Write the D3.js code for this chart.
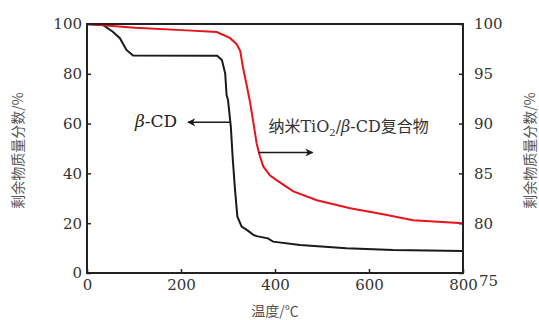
<!DOCTYPE html>
<html>
<head>
<meta charset="utf-8">
<script src="https://cdn.jsdelivr.net/npm/d3@7"></script>
<style>
  body { margin: 0; background: #fff; }
  svg { display: block; }
  .tick text { font-family: "DejaVu Serif", "Liberation Serif", serif; font-size: 15px; fill: #333; }
</style>
</head>
<body>
<svg id="chart" width="539" height="320"></svg>
<script>
// temperature (°C) and remaining mass (%)
const bcdTemp = [0, 34, 55, 70, 84, 98, 277, 287, 294, 297, 300, 306, 310, 315, 320, 329, 340, 354, 361, 385, 396, 453, 552, 651, 800];
const bcdMass = [100, 99.6, 96.9, 94.3, 89.6, 87.3, 87.2, 85.5, 80.2, 71.5, 69.5, 58.8, 46.2, 33.3, 22.6, 18.6, 17.3, 15.3, 14.8, 13.9, 12.6, 11.2, 9.9, 9.2, 8.8];

const tioTemp = [0, 102, 212, 276, 304, 318, 326, 332, 340, 347, 354, 361, 368, 375, 389, 404, 439, 489, 560, 630, 694, 800];
const tioMass = [100, 99.63, 99.36, 99.2, 98.6, 98.0, 97.3, 95.6, 93.8, 92.1, 90.1, 88.0, 86.7, 85.7, 84.8, 84.3, 83.2, 82.3, 81.5, 80.9, 80.3, 80.0];

const xTicks = [0, 200, 400, 600, 800];
const leftTicks = [0, 20, 40, 60, 80, 100];
const rightTicks = [75, 80, 85, 90, 95, 100];

const svg = d3.select('#chart');
const margin = { top: 24, right: 76, bottom: 47, left: 87 };
const width = 539 - margin.left - margin.right;
const height = 320 - margin.top - margin.bottom;
const root = svg.append('g').attr('transform', `translate(${margin.left},${margin.top})`);

const x = d3.scaleLinear().domain([0, 800]).range([0, width]);
const yL = d3.scaleLinear().domain([0, 100]).range([height, 0]);
const yR = d3.scaleLinear().domain([75, 100]).range([height, 0]);

// axes, ticks pointing inward
root.append('g')
  .attr('transform', `translate(0,${height})`)
  .call(d3.axisBottom(x).tickValues(xTicks).tickSize(-4).tickPadding(6))
  .call(g => g.select('.domain').remove());
root.append('g')
  .call(d3.axisLeft(yL).tickValues(leftTicks).tickSize(-4).tickPadding(5))
  .call(g => g.select('.domain').remove());
root.append('g')
  .attr('transform', `translate(${width},0)`)
  .call(d3.axisRight(yR).tickValues(rightTicks).tickSize(-4).tickPadding(11))
  .call(g => g.select('.domain').remove());
root.selectAll('.tick line').attr('stroke', '#222').attr('stroke-width', 1.5);

// the bottom right label sits lower and a bit right, like the original
root.selectAll('.tick text').filter(d => d === 75).attr('dy', '0.8em').attr('dx', 5);

const line = (ys, temps, masses) => d3.line()
  .x(i => x(temps[i]))
  .y(i => ys(masses[i]))(d3.range(temps.length));

root.append('path')
  .attr('d', line(yL, bcdTemp, bcdMass))
  .attr('fill', 'none').attr('stroke', '#1a1a1a').attr('stroke-width', 2);
root.append('path')
  .attr('d', line(yR, tioTemp, tioMass))
  .attr('fill', 'none').attr('stroke', '#e8131b').attr('stroke-width', 2);

root.append('rect')
  .attr('width', width).attr('height', height)
  .attr('fill', 'none').attr('stroke', '#222').attr('stroke-width', 2);

// arrows
const defs = svg.append('defs');
defs.append('marker').attr('id', 'arr')
  .attr('viewBox', '0 0 10 10').attr('refX', 9).attr('refY', 5)
  .attr('markerWidth', 12).attr('markerHeight', 8).attr('markerUnits', 'userSpaceOnUse')
  .attr('orient', 'auto')
  .append('path').attr('d', 'M0,0 L10,5 L0,10 L3,5 Z').attr('fill', '#1a1a1a');

root.append('line')
  .attr('x1', x(305)).attr('y1', yL(60.5)).attr('x2', x(215)).attr('y2', yL(60.5))
  .attr('stroke', '#1a1a1a').attr('stroke-width', 1.5).attr('marker-end', 'url(#arr)');
root.append('line')
  .attr('x1', x(365)).attr('y1', yR(87.1)).attr('x2', x(480)).attr('y2', yR(87.1))
  .attr('stroke', '#1a1a1a').attr('stroke-width', 1.5).attr('marker-end', 'url(#arr)');

const serif = '"DejaVu Serif", "Liberation Serif", serif';
const cjk = '"Noto Sans CJK SC", sans-serif';

const t1 = root.append('text')
  .attr('x', x(102)).attr('y', yL(58.7))
  .attr('font-family', serif).attr('font-size', 17).attr('fill', '#222');
t1.append('tspan').attr('font-style', 'italic').text('β');
t1.append('tspan').text('-CD');

const t2 = root.append('text')
  .attr('x', x(386)).attr('y', yR(89.2))
  .attr('font-size', 16).attr('fill', '#333');
t2.append('tspan').attr('font-family', cjk).attr('font-size', 16).text('纳米');
t2.append('tspan').attr('font-family', serif).text('TiO');
t2.append('tspan').attr('font-family', serif).attr('font-size', 10).attr('dy', 4).text('2');
t2.append('tspan').attr('font-family', serif).attr('dy', -4).text('/');
t2.append('tspan').attr('font-family', serif).attr('font-style', 'italic').text('β');
t2.append('tspan').attr('font-family', serif).text('-CD');
t2.append('tspan').attr('font-family', cjk).attr('font-size', 16).text('复合物');

// axis titles
svg.append('text')
  .attr('x', margin.left + width / 2).attr('y', 316)
  .attr('text-anchor', 'middle').attr('font-family', cjk).attr('font-size', 14).attr('fill', '#555')
  .text('温度/℃');
const yTitle = '剩余物质量分数/%';
svg.append('text')
  .attr('transform', `translate(23,${margin.top + height / 2 + 2}) rotate(-90)`)
  .attr('text-anchor', 'middle').attr('font-family', cjk).attr('font-size', 14).attr('fill', '#555')
  .text(yTitle);
svg.append('text')
  .attr('transform', `translate(535,${margin.top + height / 2 + 2}) rotate(-90)`)
  .attr('text-anchor', 'middle').attr('font-family', cjk).attr('font-size', 14).attr('fill', '#555')
  .text(yTitle);
</script>
</body>
</html>
